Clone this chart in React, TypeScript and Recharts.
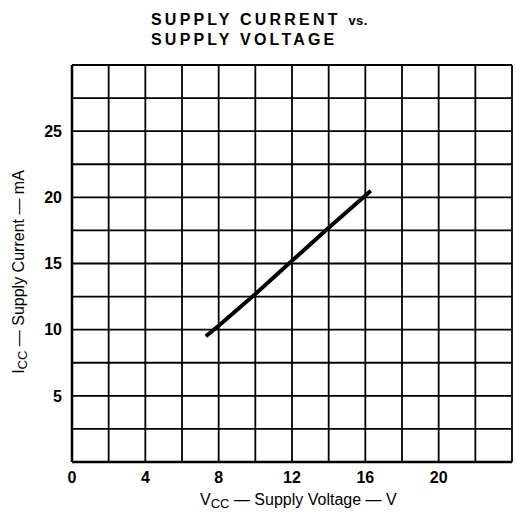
import { LineChart, Line, XAxis, YAxis, CartesianGrid } from 'recharts';

// Supply voltage (V) vs supply current (mA)
const voltage = [7.3, 8, 10, 12, 14, 16.3];
const current = [9.5, 10.3, 12.7, 15.2, 17.7, 20.5];

// grid ticks; only some of them carry a label
const xTicks = [0, 2, 4, 6, 8, 10, 12, 14, 16, 18, 20, 22, 24];
const xLabels = [0, 4, 8, 12, 16, 20];
const yTicks = [0, 2.5, 5, 7.5, 10, 12.5, 15, 17.5, 20, 22.5, 25, 27.5, 30];
const yLabels = [5, 10, 15, 20, 25];

const data = voltage.map((v, i) => ({ v, i: current[i] }));

const FONT = '"Liberation Sans", Arial, sans-serif';

export default function App() {
  return (
    <div style={{ position: 'absolute', left: 0, top: 0, width: 516, height: 516, background: '#fff', fontFamily: FONT }}>
      <div
        style={{
          position: 'absolute',
          left: 151,
          top: 10,
          fontSize: 16,
          fontWeight: 700,
          letterSpacing: 3.2,
          lineHeight: '19px',
          color: '#000',
          whiteSpace: 'nowrap',
        }}
      >
        SUPPLY CURRENT <span style={{ fontSize: 13, letterSpacing: 0.5 }}>vs.</span>
        <br />
        SUPPLY VOLTAGE
      </div>
      <LineChart
        width={516}
        height={516}
        data={data}
        margin={{ top: 65, right: 4, bottom: 24, left: 0 }}
        style={{ position: 'absolute', left: 0, top: 0 }}
      >
        <CartesianGrid stroke="#000" strokeWidth={1.8} />
        <XAxis
          dataKey="v"
          type="number"
          domain={[0, 24]}
          ticks={xTicks}
          interval={0}
          height={30}
          tickFormatter={(t: number) => (xLabels.includes(t) ? String(t) : '')}
          tickLine={false}
          axisLine={{ stroke: '#000', strokeWidth: 2.5 }}
          tick={{ fill: '#000', fontSize: 16, fontWeight: 700, fontFamily: FONT }}
          tickMargin={4}
        />
        <YAxis
          type="number"
          domain={[0, 30]}
          ticks={yTicks}
          interval={0}
          width={72}
          tickFormatter={(t: number) => (yLabels.includes(t) ? String(t) : '')}
          tickLine={false}
          axisLine={{ stroke: '#000', strokeWidth: 2.5 }}
          tick={{ fill: '#000', fontSize: 16, fontWeight: 700, fontFamily: FONT }}
          tickMargin={4}
        />
        <Line
          dataKey="i"
          type="linear"
          stroke="#000"
          strokeWidth={4}
          dot={false}
          isAnimationActive={false}
        />
      </LineChart>
      <div
        style={{
          position: 'absolute',
          left: 200,
          top: 491,
          fontSize: 16,
          color: '#000',
          whiteSpace: 'nowrap',
        }}
      >
        V<span style={{ fontSize: 13, verticalAlign: -3 }}>CC</span> — Supply Voltage — V
      </div>
      <div
        style={{
          position: 'absolute',
          left: 20,
          top: 272,
          fontSize: 16,
          color: '#000',
          whiteSpace: 'nowrap',
          transform: 'translate(-50%, -50%) rotate(-90deg)',
        }}
      >
        I<span style={{ fontSize: 13, verticalAlign: -3 }}>CC</span> — Supply Current — mA
      </div>
    </div>
  );
}
